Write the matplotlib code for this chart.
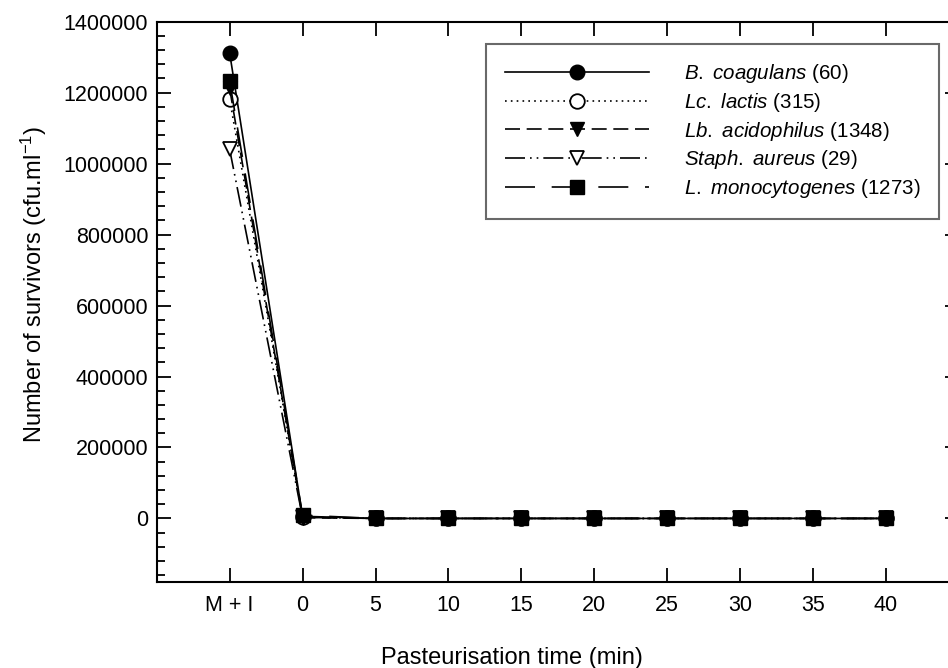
import numpy as np
import matplotlib
matplotlib.use("Agg")
import matplotlib.pyplot as plt
from matplotlib.ticker import MultipleLocator, FixedLocator

plt.rcParams['font.family'] = ['Liberation Sans', 'DejaVu Sans']
plt.rcParams['mathtext.fontset'] = 'custom'
plt.rcParams['mathtext.rm'] = 'Liberation Sans'
plt.rcParams['mathtext.it'] = 'Liberation Sans:italic'

# x positions: -5 stands for "M + I", then pasteurisation time in minutes
times = [-5, 0, 5, 10, 15, 20, 25, 30, 35, 40]
tick_labels = ["M + I", "0", "5", "10", "15", "20", "25", "30", "35", "40"]

b_coagulans = [1312000, 6000, 0, 0, 0, 0, 0, 0, 0, 0]
lc_lactis = [1182000, 4000, 0, 0, 0, 0, 0, 0, 0, 0]
lb_acidophilus = [1212000, 2000, 0, 0, 0, 0, 0, 0, 0, 0]
staph_aureus = [1040000, 3000, 0, 0, 0, 0, 0, 0, 0, 0]
l_monocytogenes = [1232000, 9000, 0, 0, 0, 0, 0, 0, 0, 0]

labels = [r"$\it{B.\ coagulans}$ (60)",
          r"$\it{Lc.\ lactis}$ (315)",
          r"$\it{Lb.\ acidophilus}$ (1348)",
          r"$\it{Staph.\ aureus}$ (29)",
          r"$\it{L.\ monocytogenes}$ (1273)"]

fig = plt.figure(figsize=(9.48, 6.68), dpi=100)
ax = fig.add_axes([0.1653, 0.1283, 0.8463, 0.8392])

ms = 10.5
lw = 1.2
ax.plot(times, b_coagulans, color='black', lw=lw, ls='-', marker='o', ms=ms,
        mfc='black', mec='black', label=labels[0])
ax.plot(times, lc_lactis, color='black', lw=lw, ls=(0, (1, 2.5)), marker='o', ms=ms,
        mfc='white', mec='black', mew=1.3, label=labels[1])
ax.plot(times, lb_acidophilus, color='black', lw=lw, ls=(0, (9, 4)), marker='v', ms=ms,
        mfc='black', mec='black', label=labels[2])
ax.plot(times, staph_aureus, color='black', lw=lw, ls=(0, (12, 3, 1, 3, 1, 3)), marker='v', ms=ms,
        mfc='white', mec='black', mew=1.3, label=labels[3])
ax.plot(times, l_monocytogenes, color='black', lw=lw, ls=(0, (18, 10)), marker='s', ms=ms - 1,
        mfc='black', mec='black', label=labels[4])

ax.set_xlim(-10, 45)
ax.set_ylim(-180000, 1400000)
ax.xaxis.set_major_locator(FixedLocator(times))
ax.set_xticklabels(tick_labels)
ax.yaxis.set_major_locator(FixedLocator(np.arange(0, 1400001, 200000)))
ax.yaxis.set_minor_locator(MultipleLocator(40000))
ax.set_yticklabels([str(int(v)) for v in np.arange(0, 1400001, 200000)])

ax.tick_params(axis='both', which='major', direction='in', length=10, width=1.3,
               labelsize=15.5, top=True, right=True)
ax.tick_params(axis='x', which='major', pad=9)
ax.tick_params(axis='y', which='major', pad=6)
ax.tick_params(axis='y', which='minor', direction='in', length=6, width=1.3, right=True)
for s in ax.spines.values():
    s.set_linewidth(1.5)

ax.set_xlabel("Pasteurisation time (min)", fontsize=17)
ax.xaxis.set_label_coords(0.443, -0.115)
ax.set_ylabel(r"Number of survivors (cfu.ml$^{-1}$)", fontsize=17)
ax.yaxis.set_label_coords(-0.134, 0.532)

leg = ax.legend(loc='upper left', bbox_to_anchor=(0.411, 0.961), fontsize=14.8,
                frameon=True, fancybox=False, handlelength=7.0, handletextpad=1.7,
                labelspacing=0.28, borderpad=0.9, borderaxespad=0)
leg.get_frame().set_edgecolor('#444444')
leg.get_frame().set_linewidth(1.5)

fig.savefig("out.png", dpi=100)
